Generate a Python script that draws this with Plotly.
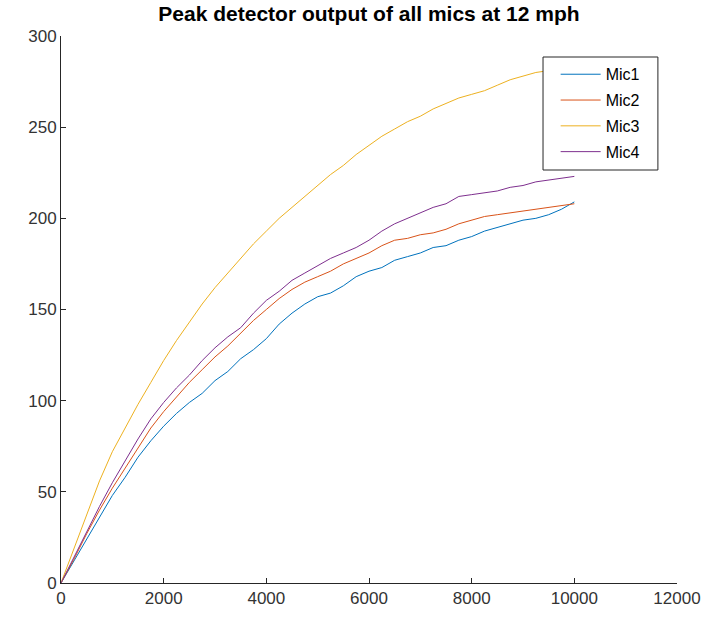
import plotly.graph_objects as go

x_vals = [i * 250 for i in range(41)]

mic1 = [0, 12, 24, 36, 48, 58, 69, 78, 86, 93, 99, 104, 111, 116, 123, 128, 134, 142, 148, 153,
        157, 159, 163, 168, 171, 173, 177, 179, 181, 184, 185, 188, 190, 193, 195, 197, 199, 200, 202, 205, 209]
mic2 = [0, 13, 27, 40, 52, 63, 74, 85, 94, 102, 110, 117, 124, 130, 137, 144, 150, 156, 161, 165,
        168, 171, 175, 178, 181, 185, 188, 189, 191, 192, 194, 197, 199, 201, 202, 203, 204, 205, 206, 207, 208]
mic3 = [0, 19, 38, 56, 72, 85, 98, 110, 122, 133, 143, 153, 162, 170, 178, 186, 193, 200, 206, 212,
        218, 224, 229, 235, 240, 245, 249, 253, 256, 260, 263, 266, 268, 270, 273, 276, 278, 280, 281, 283, 284]
mic4 = [0, 14, 28, 42, 55, 67, 79, 90, 99, 107, 114, 122, 129, 135, 140, 148, 155, 160, 166, 170,
        174, 178, 181, 184, 188, 193, 197, 200, 203, 206, 208, 212, 213, 214, 215, 217, 218, 220, 221, 222, 223]

names = ["Mic1", "Mic2", "Mic3", "Mic4"]
series = [mic1, mic2, mic3, mic4]
colors = ["#0072BD", "#D95319", "#EDB120", "#7E2F8E"]

x_ticks = [0, 2000, 4000, 6000, 8000, 10000, 12000]
x_tick_labels = ["0", "2000", "4000", "6000", "8000", "10000", "12000"]
y_ticks = [0, 50, 100, 150, 200, 250, 300]
y_tick_labels = ["0", "50", "100", "150", "200", "250", "300"]

fig = go.Figure()
for n, s, c in zip(names, series, colors):
    fig.add_trace(go.Scatter(x=x_vals, y=s, mode="lines", name=n, legendgroup=n,
                             line=dict(color=c, width=1)))

font_family = "Liberation Sans, Arial, sans-serif"
axis_common = dict(showline=True, linecolor="#262626", linewidth=1, mirror=False,
                   ticks="inside", ticklen=5, tickcolor="#262626", showgrid=False,
                   zeroline=False, automargin=False,
                   tickfont=dict(family=font_family, size=17, color="#333333"))

# legend frame (opaque box behind the legend entries, as in MATLAB)
fig.add_shape(type="rect", xref="paper", yref="paper",
              x0=0.7825, x1=0.969, y0=0.755, y1=0.9616,
              line=dict(color="#262626", width=1), fillcolor="white", layer="above")

fig.update_layout(
    width=710, height=619,
    margin=dict(l=61, r=33, t=36, b=36, autoexpand=False),
    paper_bgcolor="white", plot_bgcolor="white",
    title=dict(text="<b>Peak detector output of all mics at 12 mph</b>",
               x=0.5, xref="paper", xanchor="center", y=1 - 14 / 619, yanchor="middle",
               font=dict(family=font_family, size=21, color="black")),
    xaxis=dict(range=[0, 12000], tickvals=x_ticks, ticktext=x_tick_labels, **axis_common),
    yaxis=dict(range=[0, 300], tickvals=y_ticks, ticktext=y_tick_labels, **axis_common),
    legend=dict(x=0.803, y=0.961, xanchor="left", yanchor="top",
                bgcolor="rgba(0,0,0,0)", borderwidth=0,
                font=dict(family=font_family, size=16, color="black"),
                tracegroupgap=2, itemwidth=40),
    showlegend=True,
)

fig.write_html("out.html")
